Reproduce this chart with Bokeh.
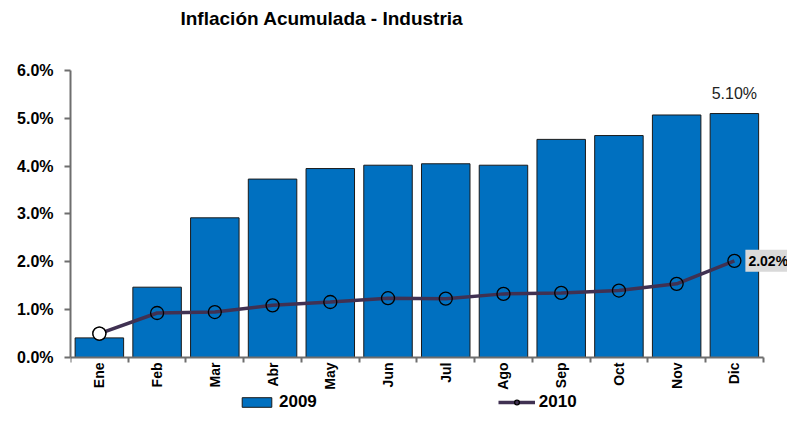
import math
from bokeh.plotting import figure
from bokeh.models import (ColumnDataSource, FixedTicker, Label, Legend, LegendItem, Range1d)
from bokeh.embed import file_html
from bokeh.resources import INLINE

title_text = "Inflación Acumulada - Industria"
months = ["Ene", "Feb", "Mar", "Abr", "May", "Jun", "Jul", "Ago", "Sep", "Oct", "Nov", "Dic"]
infl_2009 = [0.41, 1.47, 2.92, 3.73, 3.95, 4.02, 4.05, 4.02, 4.56, 4.64, 5.07, 5.10]
infl_2010 = [0.50, 0.93, 0.95, 1.09, 1.16, 1.24, 1.23, 1.33, 1.35, 1.40, 1.54, 2.02]
y_ticks = [0, 1, 2, 3, 4, 5, 6]

FONT = "Liberation Sans"
xs = [i + 0.5 for i in range(len(months))]
src = ColumnDataSource(data=dict(x=xs, m=months, y09=infl_2009, y10=infl_2010))

# frame covers the whole canvas except the left margin; axes are bounded to the data area
p = figure(width=787, height=412, output_backend="svg", toolbar_location=None, title=None,
           x_range=Range1d(0, 12.42), y_range=Range1d(-1.15, 7.4635),
           min_border_left=70, min_border_right=0, min_border_top=0, min_border_bottom=0)
p.outline_line_color = None
p.xgrid.visible = False
p.ygrid.visible = False
p.background_fill_color = "white"

# title
p.add_layout(Label(x=1.905, y=7.087, text=title_text, text_align="left", text_baseline="middle",
                   text_font=FONT, text_font_size="19px", text_font_style="bold",
                   text_color="black"))

bars = p.vbar(x="x", top="y09", width=0.84, source=src, fill_color="#0070C0",
              line_color="#1a1a1a", line_width=1)
line = p.line(x="x", y="y10", source=src, line_color="#403152", line_width=3.5)
pts = p.scatter(x="x", y="y10", source=src, marker="circle", size=13,
                fill_color="white", fill_alpha=0.0, line_color="black", line_width=1.3)
first = ColumnDataSource(data=dict(x=xs[:1], y=infl_2010[:1]))
p.scatter(x="x", y="y", source=first, marker="circle", size=13,
          fill_color="white", line_color="black", line_width=1.3)

# axes
p.yaxis.bounds = (0, 6)
p.yaxis.ticker = FixedTicker(ticks=y_ticks)
p.yaxis.major_label_overrides = {t: f"{t:.1f}%" for t in y_ticks}
p.yaxis.major_label_text_font = FONT
p.yaxis.major_label_text_font_size = "16px"
p.yaxis.major_label_text_font_style = "bold"
p.yaxis.major_label_text_color = "black"
p.yaxis.axis_line_color = "#6e6e6e"
p.yaxis.axis_line_width = 2
p.yaxis.major_tick_line_color = "#6e6e6e"
p.yaxis.major_tick_line_width = 2
p.yaxis.major_tick_in = 0
p.yaxis.major_tick_out = 6
p.yaxis.minor_tick_line_color = None
p.yaxis.major_label_standoff = 11

p.xaxis.fixed_location = 0
p.xaxis.bounds = (0, 12)
p.xaxis.ticker = FixedTicker(ticks=xs, minor_ticks=list(range(len(months) + 1)))
p.xaxis.major_label_overrides = {x: m for x, m in zip(xs, months)}
p.xaxis.major_label_orientation = math.pi / 2
p.xaxis.major_label_text_font = FONT
p.xaxis.major_label_text_font_size = "14px"
p.xaxis.major_label_text_font_style = "bold"
p.xaxis.major_label_text_color = "black"
p.xaxis.major_tick_line_color = None
p.xaxis.major_tick_in = 0
p.xaxis.major_tick_out = 0
p.xaxis.axis_line_color = "#6e6e6e"
p.xaxis.axis_line_width = 2
p.xaxis.minor_tick_line_color = "#6e6e6e"
p.xaxis.minor_tick_line_width = 2
p.xaxis.minor_tick_in = 0
p.xaxis.minor_tick_out = 5
p.xaxis.major_label_standoff = 0

# data labels
p.add_layout(Label(x=xs[-1], y=infl_2009[-1], text=f"{infl_2009[-1]:.2f}%", y_offset=12,
                   text_align="center", text_font=FONT, text_font_size="16px",
                   text_color="#222222", background_fill_color="white"))
p.add_layout(Label(x=xs[-1], y=infl_2010[-1], text=f"{infl_2010[-1]:.2f}%", x_offset=11,
                   text_align="left", text_baseline="middle", text_font=FONT, text_font_size="14px",
                   text_font_style="bold", text_color="black", background_fill_color="#d9d9d9",
                   padding=3))

legend = Legend(items=[LegendItem(label="2009", renderers=[bars]),
                       LegendItem(label="2010", renderers=[line, pts])],
                orientation="horizontal", location=(168, 0), spacing=181,
                glyph_width=37, glyph_height=12, label_standoff=4,
                label_text_font=FONT, label_text_font_size="17px", label_text_font_style="bold",
                label_text_color="black",
                border_line_color=None, background_fill_alpha=0, padding=0, margin=0,
                label_height=15)
p.add_layout(legend, "center")

open("out.html", "w").write(file_html(p, INLINE))
